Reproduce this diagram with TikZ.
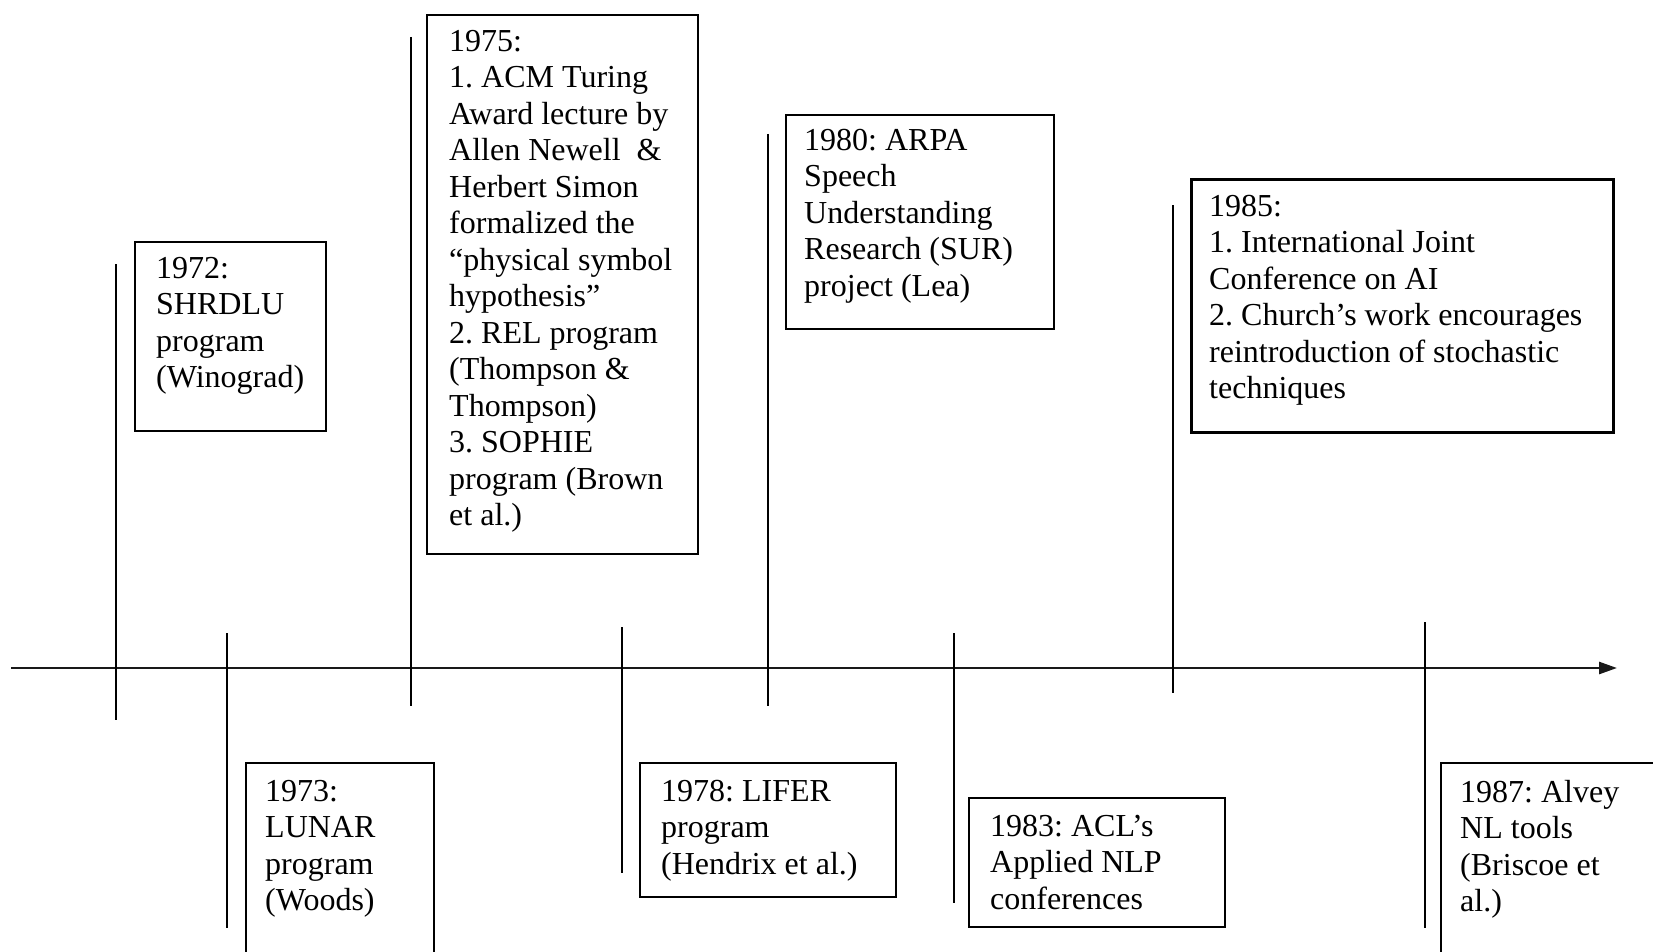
\documentclass[tikz,border=0pt]{standalone}
\usepackage{fontspec}
\setmainfont{Liberation Serif}
\usetikzlibrary{arrows.meta}
\tikzset{
  evbox/.style={draw=black, line width=2.2pt, fill=white, inner sep=0pt, anchor=north west},
  evtext/.style={inner sep=0pt, anchor=north west, align=left, font=\fontsize{32}{36.5}\selectfont\frenchspacing},
  tickline/.style={draw=black, line width=2pt},
  axisline/.style={draw=black!90, line width=2.6pt, -{Triangle[length=18pt,width=12pt]}}
}
\begin{document}
\begin{tikzpicture}[x=1pt,y=-1pt]
\clip (0,0) rectangle (1653,952);
\fill[white] (0,0) rectangle (1653,952);
% axis
\coordinate (axL) at (11,668);
\coordinate (axR) at (1617,668);
\draw[axisline] (axL) -- (axR);
% ticks
\coordinate (k72a) at (116,264); \coordinate (k72b) at (116,720);
\coordinate (k73a) at (227,633); \coordinate (k73b) at (227,928);
\coordinate (k75a) at (411,37);  \coordinate (k75b) at (411,706);
\coordinate (k78a) at (622,627); \coordinate (k78b) at (622,873);
\coordinate (k80a) at (768,134); \coordinate (k80b) at (768,706);
\coordinate (k83a) at (954,633); \coordinate (k83b) at (954,903);
\coordinate (k85a) at (1173,205); \coordinate (k85b) at (1173,693);
\coordinate (k87a) at (1425,622); \coordinate (k87b) at (1425,928);
\foreach \k in {72,73,75,78,80,83,85,87} {\draw[tickline] (k\k a) -- (k\k b);}
% boxes
\node[evbox, minimum width=191pt, minimum height=189pt] (b72) at (134,241) {};
\node[evbox, minimum width=271pt, minimum height=539pt] (b75) at (426,14) {};
\node[evbox, minimum width=268pt, minimum height=214pt] (b80) at (785,114) {};
\node[evbox, minimum width=422pt, minimum height=253pt, line width=2.8pt] (b85) at (1190,178) {};
\node[evbox, minimum width=188pt, minimum height=220pt] (b73) at (245,762) {};
\node[evbox, minimum width=256pt, minimum height=134pt] (b78) at (639,762) {};
\node[evbox, minimum width=256pt, minimum height=129pt] (b83) at (968,797) {};
\node[evbox, minimum width=260pt, minimum height=220pt] (b87) at (1440,762) {};
% texts
\node[evtext] (t72) at ([xshift=22pt,yshift=-16pt]b72.north west) {1972:\\SHRDLU\\program\\(Winograd)};
\node[evtext] (t75) at ([xshift=23pt,yshift=-16pt]b75.north west) {1975:\\1. ACM Turing\\Award lecture by\\Allen Newell \ \&\\Herbert Simon\\formalized the\\“physical symbol\\hypothesis”\\2. REL program\\(Thompson \&\\Thompson)\\3. SOPHIE\\program (Brown\\et al.)};
\node[evtext] (t80) at ([xshift=19pt,yshift=-15pt]b80.north west) {1980: ARPA\\Speech\\Understanding\\Research (SUR)\\project (Lea)};
\node[evtext] (t85) at ([xshift=19pt,yshift=-17pt]b85.north west) {1985:\\1. International Joint\\Conference on AI\\2. Church’s work encourages\\reintroduction of stochastic\\techniques};
\node[evtext] (t73) at ([xshift=20pt,yshift=-18pt]b73.north west) {1973:\\LUNAR\\program\\(Woods)};
\node[evtext] (t78) at ([xshift=22pt,yshift=-18pt]b78.north west) {1978: LIFER\\program\\(Hendrix et al.)};
\node[evtext] (t83) at ([xshift=22pt,yshift=-18pt]b83.north west) {1983: ACL’s\\Applied NLP\\conferences};
\node[evtext] (t87) at ([xshift=20pt,yshift=-18pt]b87.north west) {1987: Alvey\\NL tools\\(Briscoe et\\al.)};
\end{tikzpicture}
\end{document}
